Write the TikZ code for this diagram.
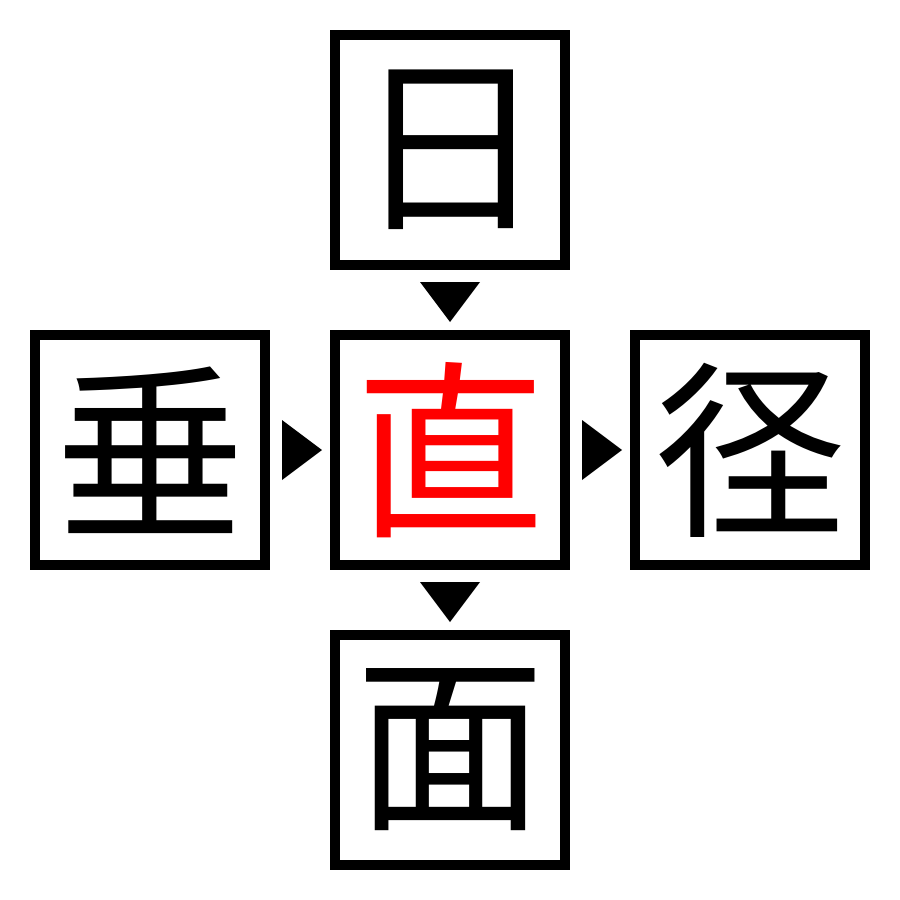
\documentclass[tikz,border=0pt]{standalone}
\usepackage{fontspec}
\newfontfamily\cjk{Noto Sans CJK JP}
\begin{document}
\begin{tikzpicture}[x=0.01cm,y=-0.01cm,
 box/.style={draw=black,line width=0.1cm,minimum size=2.3cm,inner sep=0pt,font=\cjk\fontsize{54}{54}\selectfont},
 tri/.style={fill=black}]
\useasboundingbox (0,0) rectangle (900,900);
\node[box] (t) at (450,150) {日};
\node[box,text=red] (c) at (450,450) {直};
\node[box] (l) at (150,450) {垂};
\node[box] (r) at (750,450) {径};
\node[box] (b) at (450,750) {面};
\fill[tri] (420,282) -- (480,282) -- (450,322) -- cycle;
\fill[tri] (420,582) -- (480,582) -- (450,622) -- cycle;
\fill[tri] (282,420) -- (282,480) -- (322,450) -- cycle;
\fill[tri] (582,420) -- (582,480) -- (622,450) -- cycle;
\end{tikzpicture}
\end{document}
